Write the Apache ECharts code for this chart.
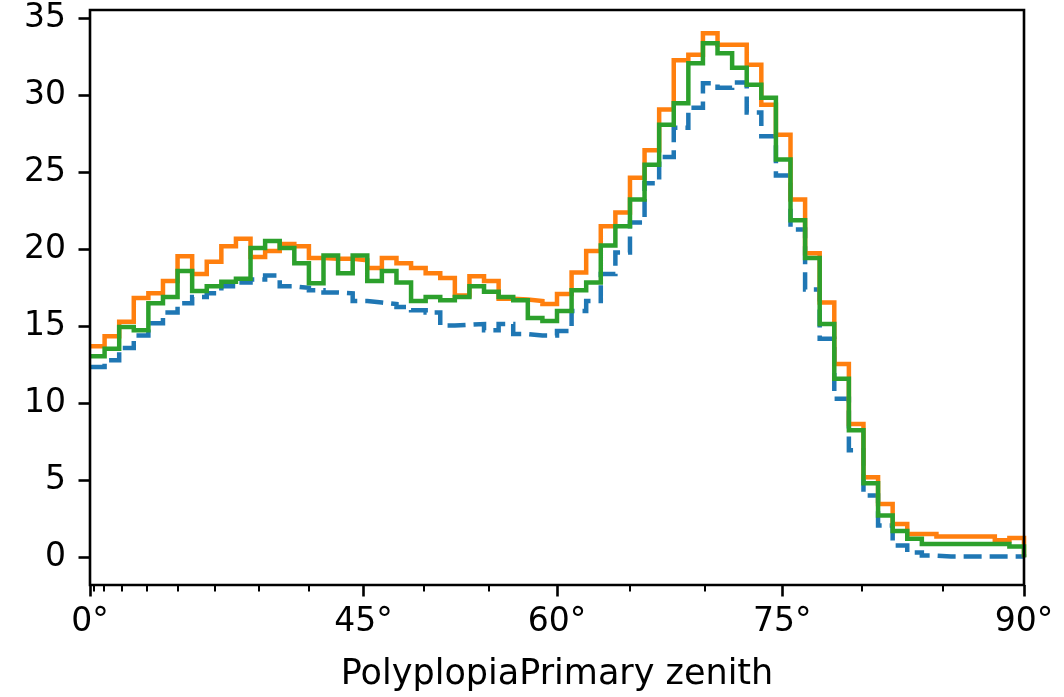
<!DOCTYPE html>
<html><head><meta charset="utf-8">
<script src="https://cdn.jsdelivr.net/npm/echarts@6/dist/echarts.min.js"></script>
<style>html,body{margin:0;padding:0;background:#fff}#c{width:1064px;height:697px}</style>
</head><body><div id="c"></div>
<script>
// Histogram bin count (bins uniform in 1 - cos(zenith), from 0° to 90°)
const nBins = 64;

// Bin heights, left (0°) to right (90°)
const valuesBlue = [
  12.35, 12.8, 13.6, 14.4, 15.2, 15.9, 16.5, 16.9, 17.15, 17.6,
  17.85, 18.05, 18.3, 17.6, 17.5, 17.35, 17.2, 17.15, 16.65, 16.55,
  16.45, 16.25, 16.05, 15.9, 15.05, 15.1, 15.15, 14.75, 15.15, 14.5,
  14.4, 14.4, 14.7, 16.0, 16.65, 18.4, 19.8, 21.75, 24.3, 26.0,
  27.9, 29.2, 30.8, 30.5, 30.85, 28.9, 27.35, 24.8, 21.3, 17.4,
  14.2, 10.3, 6.95, 4.0, 2.05, 0.75, 0.3, 0.1, 0.05, 0.05,
  0.05, 0.05, 0.05, 0.05
];
const valuesOrange = [
  13.7, 14.35, 15.3, 16.85, 17.15, 17.95, 19.55, 18.4, 19.2, 20.2,
  20.7, 19.5, 19.9, 20.35, 20.2, 19.45, 19.4, 19.4, 19.3, 18.8,
  19.45, 19.1, 18.8, 18.45, 18.15, 17.0, 18.25, 17.95, 16.8, 16.75,
  16.65, 16.45, 17.1, 18.5, 19.9, 21.5, 22.4, 24.65, 26.45, 29.1,
  32.3, 32.65, 34.05, 33.3, 33.3, 32.0, 29.4, 27.45, 23.25, 19.75,
  16.55, 12.55, 8.65, 5.2, 3.45, 2.15, 1.5, 1.5, 1.35, 1.35,
  1.35, 1.35, 1.1, 1.25
];
const valuesGreen = [
  13.05, 13.55, 14.95, 14.75, 16.5, 16.9, 18.6, 17.3, 17.6, 17.9,
  18.1, 20.1, 20.55, 20.1, 19.1, 17.8, 19.6, 18.45, 19.6, 17.95,
  18.6, 17.85, 16.65, 16.9, 16.7, 16.9, 17.6, 17.25, 16.9, 16.7,
  15.55, 15.35, 16.0, 17.35, 17.85, 20.25, 21.5, 23.25, 25.5, 28.1,
  29.5, 32.1, 33.4, 32.75, 31.8, 30.7, 29.85, 25.85, 21.9, 19.45,
  15.15, 11.6, 8.25, 4.8, 2.7, 1.7, 1.2, 0.85, 0.85, 0.85,
  0.85, 0.85, 0.85, 0.7
];

// Tick labels
const majorTickDeg = [0, 45, 60, 75, 90];
const minorTickDeg = [5, 10, 15, 20, 25, 30, 35, 40, 50, 55, 65, 70, 80, 85];
const yTicks = [0, 5, 10, 15, 20, 25, 30, 35];
const xTitle = 'PolyplopiaPrimary zenith';

function degToX(d) { return d >= 90 ? 1 : 1 - Math.cos(d * Math.PI / 180); }
const majorPos = majorTickDeg.map(degToX);
const minorPos = minorTickDeg.map(degToX);

function stepData(vals) {
  const n = vals.length;
  const pts = [];
  for (let k = 0; k < n; k++) pts.push([k / nBins, vals[k]]);
  pts.push([1, vals[n - 1]]);
  pts.push([1, 0]);
  return pts;
}

const FONT = 'DejaVu Sans';
const chart = echarts.init(document.getElementById('c'), null, {renderer: 'canvas'});
chart.setOption({
  animation: false,
  backgroundColor: '#fff',
  grid: {left: 90, right: 40, top: 10, bottom: 110, show: true, borderColor: '#000', borderWidth: 2.6, backgroundColor: 'transparent', z: 10},
  xAxis: [{
    type: 'value', min: 0, max: 1, position: 'bottom',
    axisLine: {show: false, onZero: false},
    splitLine: {show: false},
    axisTick: {show: true, inside: false, customValues: majorPos, length: 11.5, lineStyle: {color: '#000', width: 2.6}},
    axisLabel: {
      customValues: majorPos, margin: 21, color: '#000', fontFamily: FONT, fontSize: 33,
      formatter: function (v) {
        const i = majorPos.findIndex(p => Math.abs(p - v) < 1e-6);
        return i >= 0 ? majorTickDeg[i] + '°' : '';
      }
    },
    name: xTitle, nameLocation: 'middle', nameGap: 72,
    nameTextStyle: {color: '#000', fontFamily: FONT, fontSize: 35}
  }, {
    type: 'value', min: 0, max: 1, position: 'bottom', gridIndex: 0, offset: 0,
    axisLine: {show: false, onZero: false}, splitLine: {show: false},
    axisTick: {show: true, inside: false, customValues: minorPos, length: 6.6, lineStyle: {color: '#000', width: 2}},
    axisLabel: {show: false}
  }],
  yAxis: {
    type: 'value', min: -1.81, max: 35.56,
    axisLine: {show: false, onZero: false},
    splitLine: {show: false},
    axisTick: {show: true, inside: false, customValues: yTicks, length: 11.5, lineStyle: {color: '#000', width: 2.6}},
    axisLabel: {customValues: yTicks, margin: 24, color: '#000', fontFamily: FONT, fontSize: 33}
  },
  series: [
    {type: 'line', name: 'blue', data: stepData(valuesBlue), step: 'end', showSymbol: false, symbol: 'none',
     lineStyle: {color: '#1f77b4', width: 4.5, type: [18, 8], cap: 'butt', join: 'miter'}, z: 2},
    {type: 'line', name: 'orange', data: stepData(valuesOrange), step: 'end', showSymbol: false, symbol: 'none',
     lineStyle: {color: '#ff7f0e', width: 4.5, cap: 'butt', join: 'miter'}, z: 3},
    {type: 'line', name: 'green', data: stepData(valuesGreen), step: 'end', showSymbol: false, symbol: 'none',
     lineStyle: {color: '#2ca02c', width: 4.5, cap: 'butt', join: 'miter'}, z: 4}
  ]
});
</script>
</body></html>
